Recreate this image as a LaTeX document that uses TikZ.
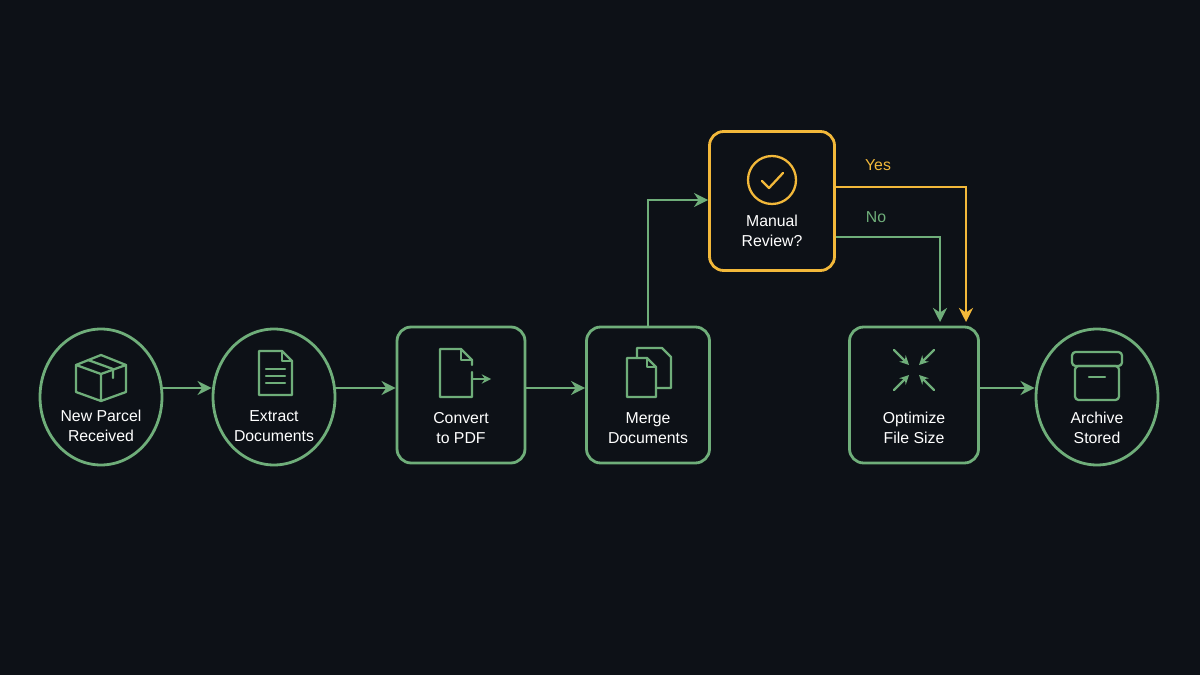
\documentclass[tikz,border=0pt]{standalone}
\usepackage{fontspec}
\setmainfont{Liberation Sans}
\usepackage{tikz}
\usetikzlibrary{positioning}
\usetikzlibrary{shapes.geometric, arrows, arrows.meta}
\usetikzlibrary{calc, shapes, backgrounds}
\definecolor{bgc}{HTML}{0D1117}
\definecolor{grn}{HTML}{6FAE7A}
\definecolor{ylw}{HTML}{F2B83A}
\tikzstyle{arrow} = [line width=1.6pt,-{Stealth[length=8pt,width=8pt]}]
\tikzstyle{stage} = [draw=grn, line width=1.6pt, rounded corners=8pt, minimum width=2.5cm, minimum height=2.72cm, text=white, font=\small, align=center, text depth=0pt]
\tikzstyle{oval} = [draw=grn, line width=1.6pt, ellipse, minimum width=2.44cm, minimum height=2.72cm, text=white, font=\small, align=center]
\tikzstyle{icon} = [line width=1.3pt, line join=round, line cap=round]

\begin{document}
\begin{tikzpicture}[x=0.02cm, y=-0.02cm, >=stealth]
  \fill[bgc] (0,0) rectangle (1200,675);
  \useasboundingbox (0,0) rectangle (1200,675);

  % Nodes
  \node[oval] (parcel) at (101,397) {};
  \node[oval] (extract) at (274,397) {};
  \node[stage, minimum width=2.56cm] (convert) at (461,395) {};
  \node[stage, minimum width=2.46cm] (merge) at (648,395) {};
  \node[stage, draw=ylw, minimum width=2.5cm, minimum height=2.78cm] (review) at (772,201) {};
  \node[stage, minimum width=2.58cm] (optimize) at (914,395) {};
  \node[oval] (archive) at (1097,397) {};

  % Labels
  \begin{scope}[nodes = {text=white, font=\small, align=center}]
    \node at (101,426) {New Parcel\\Received};
    \node at (274,426) {Extract\\Documents};
    \node at (461,428) {Convert\\to PDF};
    \node at (648,428) {Merge\\Documents};
    \node at (772,231) {Manual\\Review?};
    \node at (914,428) {Optimize\\File Size};
    \node at (1097,428) {Archive\\Stored};
    \node[text=ylw] at (878,165) {Yes};
    \node[text=grn] at (876,217) {No};
  \end{scope}

  % Icons
  \begin{scope}[icon, draw=grn]
    \draw (76,365) -- (101,355) -- (126,365) -- (126,392) -- (101,401) -- (76,392) -- cycle;
    \draw (76,365) -- (101,374) -- (126,365) (101,374) -- (101,401);
    \draw (88,360) -- (113,369) -- (113,378);
    \draw (259,351) -- (282,351) -- (292,361) -- (292,395) -- (259,395) -- cycle;
    \draw (282,351) -- (282,361) -- (292,361);
    \foreach \y in {369,376,383} \draw (266,\y) -- (285,\y);
    \draw (472,372) -- (472,397) -- (440,397) -- (440,349) -- (461,349) -- (472,360) -- (472,365);
    \draw (461,349) -- (461,360) -- (472,360);
    \draw[->] (472,379) -- (491,379);
    \draw (627,358) -- (627,397) -- (656,397) -- (656,367) -- (647,358) -- cycle;
    \draw (647,358) -- (647,367) -- (656,367);
    \draw (637,358) -- (637,348) -- (662,348) -- (671,357) -- (671,388) -- (656,388);
    \foreach \sx/\sy in {1/1,-1/1,1/-1,-1/-1}
      \draw[->] ($(914,370)+(\sx*20,\sy*20)$) -- ($(914,370)+(\sx*5,\sy*5)$);
    \draw[rounded corners=2pt] (1072,352) rectangle (1122,366);
    \draw[rounded corners=2pt] (1075,366) rectangle (1119,400);
    \draw (1089,377) -- (1105,377);
  \end{scope}
  \draw[icon, draw=ylw] (772,180) circle (24);
  \draw[icon, draw=ylw] (762,181) -- (769,188) -- (783,173);

  % Connectors
  \begin{scope}[draw=grn]
    \draw[arrow] (parcel.east |- 0,388) -- (extract.west |- 0,388);
    \draw[arrow] (extract.east |- 0,388) -- (convert.west |- 0,388);
    \draw[arrow] (convert.east |- 0,388) -- (merge.west |- 0,388);
    \draw[arrow] (merge.north) -- (648,200) -- (review.west |- 0,200);
    \draw[arrow] (review.east |- 0,237) -- (940,237) -- (940,322);
    \draw[arrow] (optimize.east |- 0,388) -- (archive.west |- 0,388);
    \draw[arrow, draw=ylw] (review.east |- 0,187) -- (966,187) -- (966,322);
  \end{scope}
\end{tikzpicture}
\end{document}
